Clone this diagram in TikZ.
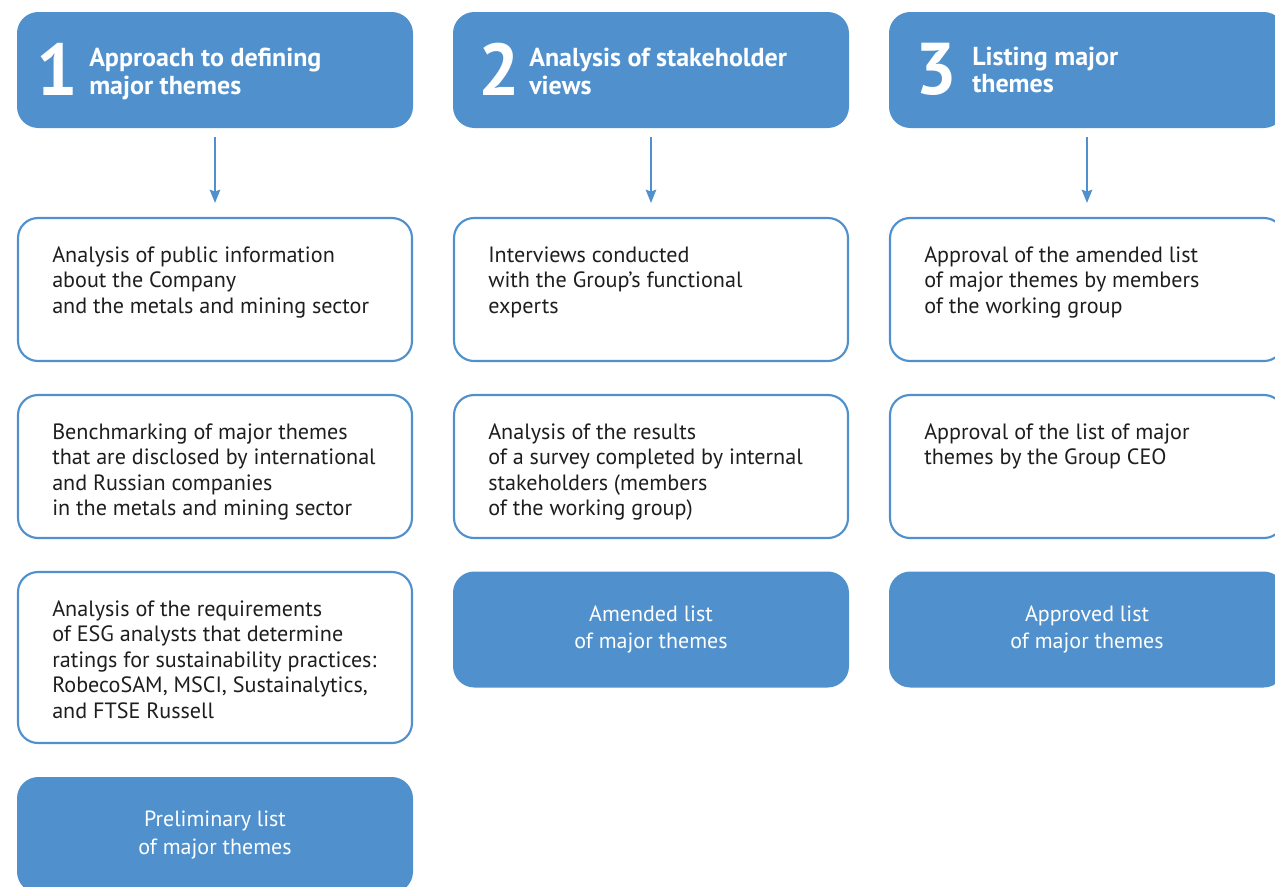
\documentclass[tikz,border=0pt]{standalone}
\usepackage{fontspec}
\setmainfont{PT Sans}
\usetikzlibrary{arrows.meta}
\definecolor{themeblue}{RGB}{80,145,205}
\definecolor{bodytext}{RGB}{30,30,30}

\begin{document}
\begin{tikzpicture}[x=0.75pt, y=-0.75pt,
	head/.style={fill=themeblue, rounded corners=16pt, minimum width=297pt, minimum height=87pt, inner sep=0pt},
	stage/.style={draw=themeblue, line width=1.6pt, fill=white, rounded corners=15pt, minimum width=295.5pt, minimum height=107.25pt, inner sep=0pt},
	result/.style={head, text=white, align=center, font=\fontsize{16.5}{20.4}\selectfont},
	num/.style={text=white, font=\bfseries\fontsize{55}{55}\selectfont, inner sep=0pt, anchor=west},
	headtxt/.style={text=white, font=\bfseries\fontsize{19.5}{20.3}\selectfont, align=left, inner sep=0pt, anchor=base west},
	txt/.style={text=bodytext, font=\fontsize{16.6}{19.1}\selectfont, align=left, inner sep=0pt, anchor=north west},
	link/.style={themeblue, line width=0.9pt, -{Stealth[width=8pt, length=10pt, inset=1.5pt]}, shorten <=6.75pt, shorten >=10.5pt}]
	\useasboundingbox (0,0) rectangle (1275,886);
	\clip (0,0) rectangle (1275,886);
	% headers
	\node[head] (h1) at (215,70) {};
	\node[head] (h2) at (651,70) {};
	\node[head] (h3) at (1087,70) {};
	\node[num] (n1) at (36,69) {1};
	\node[num] (n2) at (478,69) {2};
	\node[num] (n3) at (915,69) {3};
	\node[headtxt] (l1) at (89,94) {Approach to defining\\major themes};
	\node[headtxt] (l2) at (529,94) {Analysis of stakeholder\\views};
	\node[headtxt] (l3) at (972,92.5) {Listing major\\themes};
	% stages
	\node[stage] (s11) at (215,289.5) {};
	\node[stage] (s12) at (215,466.5) {};
	\node[stage, minimum height=128.25pt] (s13) at (215,657.5) {};
	\node[stage] (s21) at (651,289.5) {};
	\node[stage] (s22) at (651,466.5) {};
	\node[stage] (s31) at (1087,289.5) {};
	\node[stage] (s32) at (1087,466.5) {};
	\node[txt] (t11) at (52,246.5) {Analysis of public information\\about the Company\\and the metals and mining sector};
	\node[txt] (t12) at (52,423.5) {Benchmarking of major themes\\that are disclosed by international\\and Russian companies\\in the metals and mining sector};
	\node[txt] (t13) at (52,600.5) {Analysis of the requirements\\of ESG analysts that determine\\ratings for sustainability practices:\\RobecoSAM, MSCI, Sustainalytics,\\and FTSE Russell};
	\node[txt] (t21) at (488,246.5) {Interviews conducted\\with the Group’s functional\\experts};
	\node[txt] (t22) at (488,423.5) {Analysis of the results\\of a survey completed by internal\\stakeholders (members\\of the working group)};
	\node[txt] (t31) at (924,246.5) {Approval of the amended list\\of major themes by members\\of the working group};
	\node[txt] (t32) at (924,423.5) {Approval of the list of major\\themes by the Group CEO};
	% results
	\node[result] (r1) at (215,835) {Preliminary list\\of major themes};
	\node[result] (r2) at (651,629.5) {Amended list\\of major themes};
	\node[result] (r3) at (1087,629.5) {Approved list\\of major themes};
	% arrows
	\foreach \i in {1,2,3}
		\draw[link] (h\i) -- (s\i1);
\end{tikzpicture}
\end{document}
